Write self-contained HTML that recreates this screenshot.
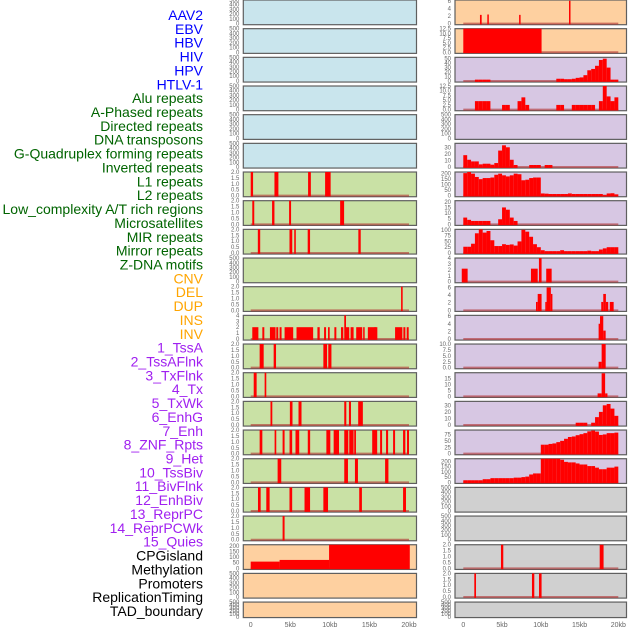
<!DOCTYPE html>
<html><head><meta charset="utf-8"><style>
body{margin:0;background:#fff;}
svg{display:block;font-family:"Liberation Sans",sans-serif;}
</style></head><body>
<svg id="c" width="630" height="630" viewBox="0 0 630 630"></svg>
<script>
// ---------- data ----------
const trackLabels = ["AAV2","EBV","HBV","HIV","HPV","HTLV-1","Alu repeats","A-Phased repeats","Directed repeats","DNA transposons","G-Quadruplex forming repeats","Inverted repeats","L1 repeats","L2 repeats","Low_complexity A/T rich regions","Microsatellites","MIR repeats","Mirror repeats","Z-DNA motifs","CNV","DEL","DUP","INS","INV","1_TssA","2_TssAFlnk","3_TxFlnk","4_Tx","5_TxWk","6_EnhG","7_Enh","8_ZNF_Rpts","9_Het","10_TssBiv","11_BivFlnk","12_EnhBiv","13_ReprPC","14_ReprPCWk","15_Quies","CPGisland","Methylation","Promoters","ReplicationTiming","TAD_boundary"];
const labelGroups = ["v","v","v","v","v","v","r","r","r","r","r","r","r","r","r","r","r","r","r","s","s","s","s","s","c","c","c","c","c","c","c","c","c","c","c","c","c","c","c","k","k","k","k","k"];
const xTicks = [0,5,10,15,20];
const xTickLabels = ["0","5kb","10kb","15kb","20kb"];

const T_BLANK = ["0","100","200","300","400","500"];
const T_2 = ["0.0","0.5","1.0","1.5","2.0"];
// left column intervals [startKb, endKb, value]
const L6 = [[0,0.3,2],[3,3.5,2],[7.25,7.6,2],[9.4,10.1,2]];
const L7 = [[0.2,0.45,2],[2.7,3.0,2],[4.85,5.1,2],[11.3,11.8,2]];
const L8 = [[0.9,1.2,2],[4.9,5.25,2],[5.5,5.7,2],[7.2,7.5,2],[13.6,13.9,2]];
const L10 = [[19.0,19.2,2]];
const L11 = [[0.2,0.97,2],[1.47,1.72,2],[2.43,3.14,2],[3.23,3.48,2],[3.65,3.9,2],[4.28,5.37,2],[5.79,7.89,2],[8.43,8.72,2],[9.27,9.52,2],[9.77,9.98,2],[10.57,10.82,2],[11.41,11.7,2],[11.82,12.04,4],[12.04,12.45,2],[12.62,13.0,2],[13.33,14.09,2],[14.21,14.34,2],[14.8,15.8,2],[15.64,16.0,2],[18.24,19.16,2],[19.29,19.54,2],[19.71,19.96,2]];
const L12 = [[1.13,1.64,2],[2.9,3.2,2],[9.18,9.65,2],[9.8,10.2,2]];
const L13 = [[0.38,0.75,2],[1.76,1.97,2]];
const L14 = [[2.5,2.73,2],[4.95,5.28,2],[6.04,6.42,2],[11.82,12.08,2],[12.41,12.67,2],[13.58,14.17,2]];
const L15 = [[1.13,1.47,2],[3.02,3.23,2],[4.03,4.28,2],[4.91,5.24,2],[5.66,6.13,2],[7.21,7.51,2],[9.56,10.06,2],[10.48,11.16,2],[11.82,12.33,2],[12.45,13.0,2],[13.08,13.3,2],[15.35,15.98,2],[16.35,16.6,2],[17.1,17.36,2],[17.99,18.24,2],[19.25,19.54,2],[19.75,20.0,2]];
const L16 = [[3.4,3.86,2],[11.82,12.29,2],[13.17,13.55,2],[16.98,17.4,2]];
const L17 = [[0.92,1.26,2],[1.97,2.39,2],[4.9,5.24,2],[6.8,7.5,2],[9.18,9.77,2],[13.71,14.05,2],[19.25,19.62,2]];
const L18 = [[4.03,4.28,2]];
const L19 = [[0,3.65,60],[3.65,9.9,75],[9.9,20.1,210]];

// right column: intervals or 0.5kb bins
const R0 = [[2.15,2.37,2.3],[3.1,3.28,2.4],[7.2,7.35,2.3],[13.64,13.8,6]];
const R1 = [[0,10.1,12.5]];
const R2bins = [0,0,0,3,3,3,3,0,0,0,0,0,0,0,0,0,0,0,0,0,0,0,0,0,5,5,4,4,5,7,8,13,24,27,34,47,50,30,3,3];
const R3bins = [0,0,0,4.5,4.5,4.5,4.5,0,0,0,2.5,2.5,0,0,4.5,6.5,2.5,0,0,0,0,0,0,0,2.5,2.5,0,0,2.5,2.5,2.5,2.5,2.5,2.5,0,4.5,12.5,7,4.5,6.5];
const R5bins = [18,11,8.5,8.5,4,5,5,3.5,6,25,33,30,11,3,0,0,0,3,3,3,0,3,3,0,0,0,0,0,0,0,0,0,0,0,0,0,0,0,0,0];
const R6bins = [205,215,200,170,150,160,160,165,190,200,185,175,185,200,195,140,145,160,165,165,20,18,15,15,15,15,15,20,15,15,15,15,15,15,15,15,5,20,22,12];
const R7bins = [6,4,3,3,3,3,3,0,0,4.5,15,13,6,3,0,0,0,0,0,0,0,0,0,0,0,0,0,0,0,0,0,0,0,0,0,0,0,0,0,0];
const R8bins = [27,27,40,85,102,88,95,55,30,30,38,35,37,32,50,100,92,70,38,25,12,8,8,8,8,12,8,8,8,8,8,8,10,8,8,15,20,25,25,25];
const R9 = [[-0.2,0.56,2.2],[8.73,9.6,2.2],[9.76,10.1,4],[10.7,11.4,2.2]];
const R10 = [[9.38,9.6,2.2],[9.6,10.1,4.3],[10.58,10.75,2.2],[10.75,11.3,6],[11.3,11.5,4.3],[17.8,18.06,2.2],[18.06,18.4,4.3],[18.4,18.7,2.2],[18.9,19.4,2.2]];
const R11 = [[17.46,17.64,4],[17.64,18.06,6],[18.06,18.37,2.2]];
const R12 = [[17.46,17.85,2.5],[17.85,18.37,10]];
const R13 = [[17.33,17.85,2.5],[17.85,18.3,19.5],[18.3,18.6,2.5]];
const R14bins = [0,0,0,0,0,0,0,0,0,0,0,0,0,0,0,0,0,0,0,0,0,0,0,0,0,0,0,0,0,3.5,3.5,3.5,0,3.5,12,20,30,32,25,14];
const R15bins = [0,0,0,0,0,0,0,0,0,0,0,0,0,0,0,0,0,0,0,0,35,35,38,40,45,50,58,65,67,72,76,80,87,90,86,73,75,80,80,82];
const R16bins = [20,20,20,20,20,30,30,40,40,40,40,40,40,45,45,50,55,75,85,85,225,225,225,225,225,215,195,190,190,180,170,170,155,155,140,125,125,140,140,150];
const R19 = [[4.86,5.16,2],[17.6,18.1,2]];
const R20 = [[1.42,1.64,2],[8.86,9.16,2],[9.77,10.1,2]];

// per-row config: [bgKey, data, isBins, yMax, ticks]
const leftRows = [
 ["b",null,false,500,T_BLANK],["b",null,false,500,T_BLANK],["b",null,false,500,T_BLANK],["b",null,false,500,T_BLANK],["b",null,false,500,T_BLANK],["b",null,false,500,T_BLANK],
 ["g",L6,false,2,T_2],["g",L7,false,2,T_2],["g",L8,false,2,T_2],["g",null,false,500,T_BLANK],["g",L10,false,2,T_2],
 ["g",L11,false,4,["0","1","2","3","4"]],["g",L12,false,2,T_2],["g",L13,false,2,T_2],["g",L14,false,2,T_2],["g",L15,false,2,T_2],["g",L16,false,2,T_2],["g",L17,false,2,T_2],["g",L18,false,2,T_2],
 ["o",L19,false,210,["0","50","100","150","200"]],["o",null,false,500,T_BLANK],["o",null,false,500,T_BLANK]
];
const rightRows = [
 ["o",R0,false,6.2,["0","2","4","6"]],["o",R1,false,12.5,["0.0","2.5","5.0","7.5","10.0","12.5"]],
 ["p",R2bins,true,53,["0","10","20","30","40","50"]],["p",R3bins,true,12.5,["0.0","2.5","5.0","7.5","10.0","12.5"]],
 ["p",null,false,500,T_BLANK],["p",R5bins,true,36,["0","10","20","30"]],["p",R6bins,true,215,["0","50","100","150","200"]],
 ["p",R7bins,true,21,["0","5","10","15","20"]],["p",R8bins,true,102,["0","25","50","75","100"]],["p",R9,false,4,["0","1","2","3","4"]],
 ["p",R10,false,6.2,["0","2","4","6"]],["p",R11,false,6.2,["0","2","4","6"]],["p",R12,false,10,["0.0","2.5","5.0","7.5","10.0"]],
 ["p",R13,false,20,["0","5","10","15"]],["p",R14bins,true,36,["0","10","20","30"]],["p",R15bins,true,92,["0","25","50","75"]],
 ["p",R16bins,true,225,["0","50","100","150","200"]],["k",null,false,500,T_BLANK],["k",null,false,500,T_BLANK],
 ["k",R19,false,2,T_2],["k",R20,false,2,T_2],["k",null,false,500,T_BLANK]
];

// ---------- styles ----------
const BG = {b:"#c9e5ed",g:"#c9e1a5",o:"#fed0a0",p:"#d7c7e3",k:"#d0d0d0"};
const LC = {v:"#0000ff",r:"#006400",s:"#ffa500",c:"#a020f0",k:"#000000"};
const NS = "http://www.w3.org/2000/svg";
const svg = document.getElementById("c");
function mk(tag, attrs, parent){const e=document.createElementNS(NS,tag);for(const k in attrs)e.setAttribute(k,attrs[k]);(parent||svg).appendChild(e);return e;}

// labels
trackLabels.forEach((t,i)=>{
  const e = mk("text",{x:203,y:15+i*13.86+5,"text-anchor":"end","font-size":"14",fill:LC[labelGroups[i]]});
  e.textContent = t;
  
  
});

const PITCH = 28.67, H = 24.7;
function rowTop(i){return i*PITCH;}
function rowH(i){return i===21?15.5:H;}

function drawColumn(rows, x0, x1, zeroPx, twentyPx, side){
  const xs = kb => zeroPx + kb*(twentyPx-zeroPx)/20;
  rows.forEach((r,i)=>{
    const [bg,data,isBins,ymax,ticks] = r;
    const top = rowTop(i), h = rowH(i), bot = top+h;
    const ymin = -0.045*ymax;
    const ys = v => bot - (v-ymin)/(ymax-ymin)*h;
    const g = mk("g",{});
    
    
    const rect = mk("rect",{x:x0,y:top,width:x1-x0,height:h,fill:BG[bg],stroke:"#5f5f5f","stroke-width":1.2},g);
    
    
    // ticks
    ticks.forEach(t=>{
      const v = parseFloat(t);
      const te = mk("text",{x:x0-4,y:ys(v)+2,"text-anchor":"end","font-size":"6",fill:"#666"},g);
      te.textContent = t;
      
      
    });
    if(!data) return;
    mk("line",{x1:xs(0),x2:xs(20),y1:ys(0),y2:ys(0),stroke:"#b03030","stroke-width":2,"stroke-opacity":0.6},g);
    let ivs = data;
    if(isBins) ivs = data.map((v,k)=>[k*0.5,k*0.5+0.5,v]).filter(d=>d[2]>0);
    ivs.forEach(d=>{
      const xa = xs(Math.max(d[0],-0.8)), xb = xs(Math.min(d[1],20.9));
      const b = mk("rect",{x:xa,y:ys(d[2]),width:Math.max(1.5,xb-xa),height:ys(0)-ys(d[2])+0.8,fill:"#ff0000"},g);
      
      
    });
  });
  xTicks.forEach((t,k)=>{
    const e = mk("text",{x:xs(t),y:627,"text-anchor":"middle","font-size":"7",fill:"#666"});
    e.textContent = xTickLabels[k];
    
    
  });
}
drawColumn(leftRows, 243.3, 416.5, 250.7, 409, "left");
drawColumn(rightRows, 455, 626.5, 463.3, 618.3, "right");
</script>
</body></html>
